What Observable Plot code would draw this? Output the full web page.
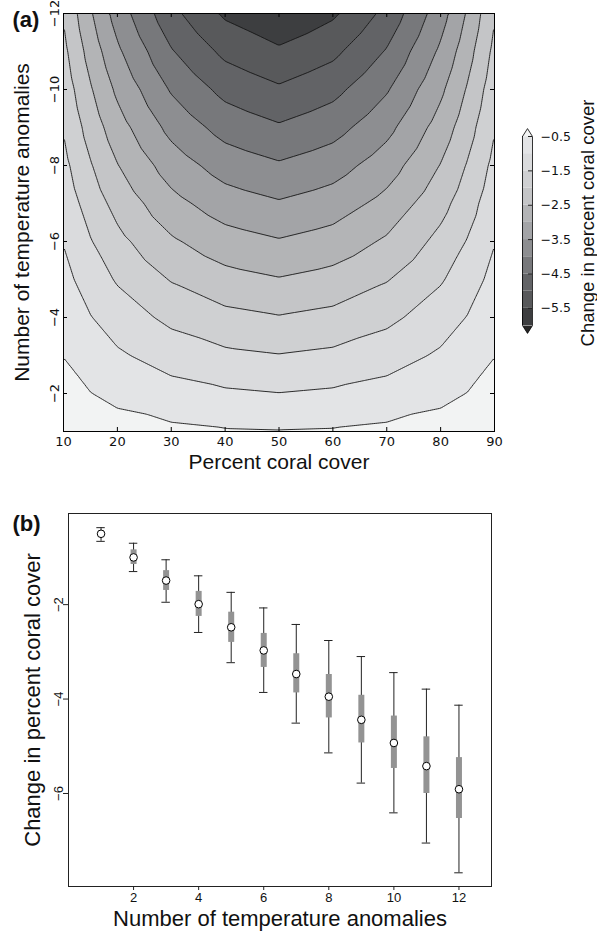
<!DOCTYPE html>
<html>
<head>
<meta charset="utf-8">
<script src="https://cdn.jsdelivr.net/npm/d3@7"></script>
<script src="https://cdn.jsdelivr.net/npm/@observablehq/plot@0.6"></script>
<style>
html, body { margin: 0; padding: 0; background: #fff; }
#wrap { position: relative; width: 597px; height: 931px; overflow: hidden; background: #fff; }
#wrap > svg { position: absolute; overflow: visible; }
</style>
</head>
<body>
<div id="wrap"></div>
<script>
// ---------- Panel (a) data: contour grid ----------
const coverPercent = [10, 15, 20, 30, 40, 50, 60, 70, 80, 85, 90];
const anomalyRows = [-1, -2, -3, -4, -5, -6, -7, -8, -9, -10, -11, -12];
const changeGrid = [
  [-0.17, -0.24, -0.31, -0.40, -0.46, -0.48, -0.46, -0.40, -0.31, -0.24, -0.17],
  [-0.34, -0.49, -0.62, -0.81, -0.93, -0.99, -0.93, -0.81, -0.62, -0.49, -0.34],
  [-0.51, -0.74, -0.93, -1.22, -1.40, -1.48, -1.40, -1.22, -0.93, -0.74, -0.51],
  [-0.68, -0.98, -1.24, -1.62, -1.86, -1.97, -1.86, -1.62, -1.24, -0.98, -0.68],
  [-0.85, -1.23, -1.55, -2.03, -2.33, -2.47, -2.33, -2.03, -1.55, -1.23, -0.85],
  [-1.02, -1.47, -1.86, -2.43, -2.79, -2.96, -2.79, -2.43, -1.86, -1.47, -1.02],
  [-1.19, -1.72, -2.17, -2.84, -3.26, -3.45, -3.26, -2.84, -2.17, -1.72, -1.19],
  [-1.36, -1.96, -2.48, -3.24, -3.72, -3.94, -3.72, -3.24, -2.48, -1.96, -1.36],
  [-1.53, -2.21, -2.79, -3.65, -4.19, -4.44, -4.19, -3.65, -2.79, -2.21, -1.53],
  [-1.70, -2.45, -3.10, -4.05, -4.65, -4.93, -4.65, -4.05, -3.10, -2.45, -1.70],
  [-1.87, -2.70, -3.41, -4.46, -5.12, -5.42, -5.12, -4.46, -3.41, -2.70, -1.87],
  [-2.04, -2.94, -3.72, -4.86, -5.58, -5.92, -5.58, -4.86, -3.72, -2.94, -2.04]
];
const contourLevels = [-6, -5.5, -5, -4.5, -4, -3.5, -3, -2.5, -2, -1.5, -1, -0.5];
const bandColors = ["#3d3e40", "#58595b", "#626366", "#77787b", "#8d8e91", "#a3a4a7",
                    "#b3b4b6", "#c4c5c7", "#cfd0d2", "#dadbdd", "#e3e4e6", "#f2f3f3"];
const underColor = "#262626";
const coverTicks = [10, 20, 30, 40, 50, 60, 70, 80, 90];
const anomalyTicks = [-12, -10, -8, -6, -4, -2];
const colorbarTicks = [-0.5, -1.5, -2.5, -3.5, -4.5, -5.5];

// ---------- Panel (b) data ----------
const anomalyCount = [1, 2, 3, 4, 5, 6, 7, 8, 9, 10, 11, 12];
const meanChange   = [-0.50, -1.00, -1.49, -1.99, -2.48, -2.97, -3.47, -3.95, -4.44, -4.93, -5.42, -5.91];
const boxUpper     = [-0.44, -0.84, -1.28, -1.72, -2.16, -2.61, -3.04, -3.48, -3.92, -4.36, -4.80, -5.24];
const boxLower     = [-0.57, -1.15, -1.70, -2.25, -2.80, -3.33, -3.87, -4.40, -4.93, -5.47, -6.00, -6.53];
const whiskerUpper = [-0.37, -0.70, -1.05, -1.39, -1.74, -2.07, -2.42, -2.76, -3.10, -3.44, -3.79, -4.13];
const whiskerLower = [-0.66, -1.30, -1.95, -2.59, -3.23, -3.86, -4.51, -5.14, -5.78, -6.41, -7.05, -7.68];
const countTicks = [2, 4, 6, 8, 10, 12];
const changeTicks = [-2, -4, -6];

// ---------- helpers ----------
const fmt = d => (d < 0 ? "\u2212" + Math.abs(d) : String(d));
const sans = "'Liberation Sans', Arial, Helvetica, sans-serif";
const dejavu = "'DejaVu Sans', sans-serif";
const wrap = document.getElementById("wrap");
const W = 597;

// ---------- Panel (a) ----------
const gridPoints = [];
anomalyRows.forEach((a, i) => coverPercent.forEach((c, j) =>
  gridPoints.push({cover: c, anomaly: a, change: changeGrid[i][j]})));

const aM = {top: 13, left: 63, right: 103, bottom: 49}, aH = 480;
const aFW = W - aM.left - aM.right, aFH = aH - aM.top - aM.bottom, tk = 4;

const plotA = Plot.plot({
  width: W, height: aH,
  marginTop: aM.top, marginLeft: aM.left, marginRight: aM.right, marginBottom: aM.bottom,
  x: {domain: [10, 90], axis: null},
  y: {domain: [-1, -12], axis: null},
  color: {type: "ordinal", domain: contourLevels, range: bandColors},
  style: {fontFamily: dejavu, fontSize: "13px", color: "#111", background: "transparent", overflow: "visible"},
  marks: [
    Plot.contour(gridPoints, {x: "cover", y: "anomaly", fill: "change", thresholds: contourLevels,
      interpolate: "barycentric", stroke: "#151515", strokeWidth: 0.9}),
    Plot.tickX(coverTicks, {x: d => d, insetTop: aFH - tk, stroke: "#000"}),
    Plot.tickX(coverTicks, {x: d => d, insetBottom: aFH - tk, stroke: "#000"}),
    Plot.tickY(anomalyTicks, {y: d => d, insetRight: aFW - tk, stroke: "#000"}),
    Plot.tickY(anomalyTicks, {y: d => d, insetLeft: aFW - tk, stroke: "#000"}),
    Plot.frame({stroke: "#000", strokeWidth: 1}),
    Plot.text(coverTicks, {x: d => d, frameAnchor: "bottom", lineAnchor: "top", dy: 5, text: fmt, fill: "#111"}),
    Plot.text(anomalyTicks, {y: d => d, frameAnchor: "left", lineAnchor: "bottom", textAnchor: "middle",
      rotate: -90, dx: -4.5, text: fmt, fill: "#111"}),
    Plot.text(["Percent coral cover"], {text: d => d, frameAnchor: "bottom", lineAnchor: "middle", textAnchor: "middle",
      dy: 31, fontFamily: sans, fontSize: 21, fill: "#111"}),
    Plot.text(["Number of temperature anomalies"], {text: d => d, frameAnchor: "left", lineAnchor: "middle",
      textAnchor: "middle", rotate: -90, dx: -41, fontFamily: sans, fontSize: 21, fill: "#111"}),
    Plot.text(["(a)"], {text: d => d, frameAnchor: "top-left", textAnchor: "start", lineAnchor: "middle",
      dx: -51, dy: 6, fontFamily: sans, fontWeight: "bold", fontSize: 22, fill: "#111"})
  ]
});
plotA.style.left = "0px"; plotA.style.top = "0px";
wrap.appendChild(plotA);

// ---------- Colorbar ----------
const cbLeft = 505, cbTop = 110, cbW = 92, cbH = 240;
const cbM = {left: 17, right: 65, top: 26, bottom: 25};
const cbTopLevel = contourLevels[contourLevels.length - 1];
const cbBottomLevel = contourLevels[0];
const ext = 0.23;
const bodyBands = contourLevels.slice(0, -1).map((lo, i) => ({lo, hi: contourLevels[i + 1]}));
const topTri = [{x: 0, y: cbTopLevel}, {x: 0.5, y: cbTopLevel + ext}, {x: 1, y: cbTopLevel}];
const botTri = [{x: 0, y: cbBottomLevel}, {x: 0.5, y: cbBottomLevel - ext}, {x: 1, y: cbBottomLevel}];
const outline = [
  {x: 0, y: cbTopLevel}, {x: 0.5, y: cbTopLevel + ext}, {x: 1, y: cbTopLevel},
  {x: 1, y: cbBottomLevel}, {x: 0.5, y: cbBottomLevel - ext}, {x: 0, y: cbBottomLevel}, {x: 0, y: cbTopLevel}
];
const cb = Plot.plot({
  width: cbW, height: cbH,
  marginTop: cbM.top, marginLeft: cbM.left, marginRight: cbM.right, marginBottom: cbM.bottom,
  x: {domain: [0, 1], axis: null},
  y: {domain: [cbBottomLevel, cbTopLevel], axis: null},
  color: {type: "ordinal", domain: contourLevels, range: bandColors},
  style: {fontFamily: dejavu, fontSize: "12.5px", color: "#111", background: "transparent", overflow: "visible"},
  marks: [
    Plot.rect(bodyBands, {x1: () => 0, x2: () => 1, y1: "lo", y2: "hi", fill: "lo"}),
    Plot.line(topTri, {x: "x", y: "y", fill: bandColors[bandColors.length - 1], stroke: "none"}),
    Plot.line(botTri, {x: "x", y: "y", fill: underColor, stroke: "none"}),
    Plot.tickY(colorbarTicks, {y: d => d, insetLeft: 6, stroke: "#222"}),
    Plot.line(outline, {x: "x", y: "y", stroke: "#000", strokeWidth: 0.8}),
    Plot.text(colorbarTicks, {y: d => d, frameAnchor: "right", textAnchor: "start", dx: 8, text: fmt, fill: "#111"}),
    Plot.text(["Change in percent coral cover"], {text: d => d, frameAnchor: "right", lineAnchor: "middle",
      textAnchor: "middle", rotate: -90, dx: 56, dy: -8, fontFamily: sans, fontSize: 18.5, fill: "#111"})
  ]
});
cb.style.left = cbLeft + "px"; cb.style.top = cbTop + "px";
wrap.appendChild(cb);

// ---------- Panel (b) ----------
const stats = anomalyCount.map((n, i) => ({
  n, mean: meanChange[i], bHigh: boxUpper[i], bLow: boxLower[i], wHigh: whiskerUpper[i], wLow: whiskerLower[i]
}));
const capHalf = 0.13;
const bM = {top: 33, left: 68, right: 106, bottom: 45}, bH = 451;
const plotB = Plot.plot({
  width: W, height: bH,
  marginTop: bM.top, marginLeft: bM.left, marginRight: bM.right, marginBottom: bM.bottom,
  x: {domain: [0, 13], axis: null},
  y: {domain: [-7.97, -0.07], axis: null},
  style: {fontFamily: sans, fontSize: "13px", color: "#111", background: "transparent", overflow: "visible"},
  marks: [
    Plot.ruleX(stats, {x: "n", y1: "wLow", y2: "wHigh", stroke: "#222", strokeWidth: 1}),
    Plot.ruleY(stats, {y: "wLow", x1: d => d.n - capHalf, x2: d => d.n + capHalf, stroke: "#222", strokeWidth: 1}),
    Plot.ruleY(stats, {y: "wHigh", x1: d => d.n - capHalf, x2: d => d.n + capHalf, stroke: "#222", strokeWidth: 1}),
    Plot.ruleX(stats, {x: "n", y1: "bLow", y2: "bHigh", stroke: "#939393", strokeWidth: 6}),
    Plot.dot(stats, {x: "n", y: "mean", r: 3.8, fill: "white", stroke: "#000", strokeWidth: 1}),
    Plot.frame({stroke: "#222", strokeWidth: 1}),
    Plot.axisX(countTicks, {anchor: "bottom", tickSize: 4, tickPadding: 2, tickFormat: fmt, label: null, stroke: "#222", fill: "#111"}),
    Plot.axisY(changeTicks, {anchor: "left", tickSize: 5, tickFormat: () => "", label: null, stroke: "#222"}),
    Plot.text(changeTicks, {y: d => d, frameAnchor: "left", lineAnchor: "bottom", textAnchor: "middle",
      rotate: -90, dx: -6, text: fmt, fill: "#111"}),
    Plot.text(["Number of temperature anomalies"], {text: d => d, frameAnchor: "bottom", lineAnchor: "middle",
      textAnchor: "middle", dy: 32, fontSize: 22, fill: "#111"}),
    Plot.text(["Change in percent coral cover"], {text: d => d, frameAnchor: "left", lineAnchor: "middle",
      textAnchor: "middle", rotate: -90, dx: -36, fontSize: 22, fill: "#111"}),
    Plot.text(["(b)"], {text: d => d, frameAnchor: "top-left", textAnchor: "start", lineAnchor: "middle",
      dx: -56, dy: 10, fontWeight: "bold", fontSize: 22, fill: "#111"})
  ]
});
plotB.style.left = "0px"; plotB.style.top = "480px";
wrap.appendChild(plotB);
</script>
</body>
</html>
